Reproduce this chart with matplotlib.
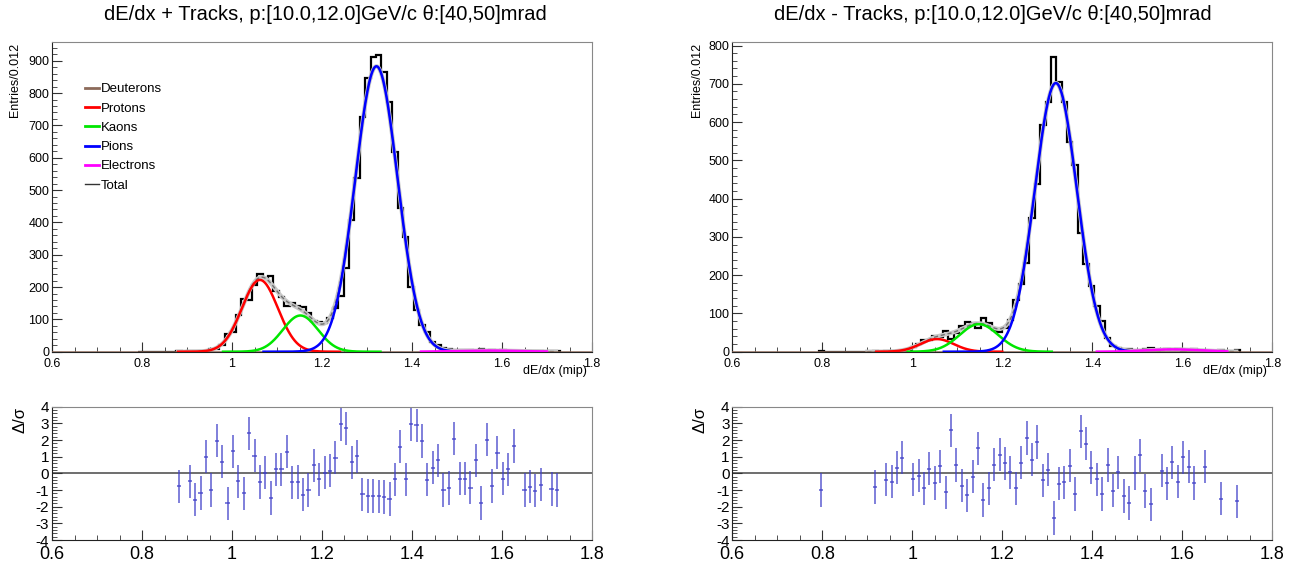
import numpy as np
import matplotlib.pyplot as plt
from matplotlib.ticker import MultipleLocator, FuncFormatter
from matplotlib.lines import Line2D

plt.rcParams['font.family'] = ['Liberation Sans', 'DejaVu Sans']

# histogram binning (ROOT TH1: 100 bins of 0.012 from 0.6 to 1.8)
bin_lo = 0.6
bin_w = 0.012
first_bin = 16  # bins below this index are empty

# bin contents, bins 16..93
pos_counts = [0, 0, 0, 0, 0, 0, 0,
              1, 0, 1, 3, 2, 2, 7, 8, 20, 55, 60, 112, 162, 160, 205, 240, 228, 235,
              188, 168, 140, 151, 142, 138, 120, 95, 92, 90, 105, 136, 172, 258, 407,
              536, 727, 846, 911, 917, 864, 773, 619, 444, 356, 201, 129, 83, 62, 31,
              21, 12, 7, 6, 4, 4, 5, 2, 8, 1, 5, 1, 4, 3, 1, 0, 3, 3, 3, 2, 0, 2, 2]
neg_counts = [1, 0, 0, 0, 0, 0, 0, 0, 0, 0,
              1, 0, 1, 1, 1, 2, 0, 13, 19, 30, 31, 42, 39, 53, 34, 50, 66, 78, 74, 62,
              87, 75, 58, 51, 61, 84, 134, 176, 233, 350, 437, 592, 652, 770, 705, 652,
              548, 487, 310, 230, 172, 120, 81, 36, 16, 9, 8, 8, 3, 2, 6, 10, 0, 5, 7,
              4, 7, 3, 4, 6, 0, 2, 0, 0, 4, 0, 0, 4]

# fit components (gaussian amplitude, mean, sigma, drawing range)
species = ['Deuterons', 'Protons', 'Kaons', 'Pions', 'Electrons']
species_colors = ['#8c6a5a', '#ff0000', '#00e600', '#0000ff', '#ff00ff']
pos_amp = [0, 222, 112, 883, 3.5]
pos_mean = [1.9, 1.062, 1.152, 1.321, 1.57]
pos_sigma = [0.05, 0.040, 0.039, 0.047, 0.07]
pos_lo = [0.6, 0.88, 0.98, 1.07, 1.42]
pos_hi = [1.8, 1.24, 1.33, 1.50, 1.70]
pos_total = [0.88, 1.72]
neg_amp = [0, 33, 72, 702, 6]
neg_mean = [1.9, 1.055, 1.148, 1.319, 1.58]
neg_sigma = [0.05, 0.037, 0.043, 0.0465, 0.06]
neg_lo = [0.6, 0.92, 0.99, 1.07, 1.41]
neg_hi = [1.8, 1.20, 1.31, 1.49, 1.70]
neg_total = [0.90, 1.72]

# residuals (fit - data)/sigma, per filled bin
pos_res_bins = [23] + list(range(25, 86)) + [87, 88, 89, 90, 92, 93]
pos_res = [-0.78,
           -0.48, -1.57, -1.17, 1.0, -1.0, 1.97, 0.70, -1.79, 1.33, -0.48,
           -1.2, 2.41, 1.07, -0.52, 0.04, -1.47, 0.24, 0.24, 1.31, -0.54,
           -0.52, -1.27, -0.99, 0.48, -0.36, 0.04, 0.16, 0.95, 2.96, 2.70,
           0.66, 1.03, -1.25, -1.35, -1.35, -1.37, -1.41, -1.53, -0.36, 1.61,
           -0.36, 2.96, 2.88, 1.95, -0.38, 0.34, 0.78, -0.99, -0.87, 2.09,
           -0.32, -0.32, -0.85, 0.78, -1.77, 2.03, -0.76, 1.25, -0.32, 0.24,
           1.65,
           -0.99, -0.80, -1.03, -0.68, -0.93, -0.99]
neg_res_bins = [16, 26, 28, 29, 30, 31] + list(range(33, 78)) + list(range(79, 86)) + [87, 90, 93]
neg_res = [-0.99, -0.82, -0.38, -0.5, 0.34, 0.95,
           -0.36, -0.14, -0.9, 0.28, -0.58, 0.42, -1.13, 2.58, 0.5, -0.74,
           -1.31, -0.2, 1.51, -1.59, -0.9, 0.52, 1.13, 0.6, 0.06, -0.9,
           0.64, 2.13, 0.82, 1.89, -0.42, 0.22, -2.68, -0.62, -0.54, 0.46,
           -1.23, 2.52, 1.79, 0.34, -0.36, -1.23, 0.5, -1.03, 0.06, -1.35,
           -1.77, 0.02, 1.09, -1.05, -1.85,
           0.16, -0.6, 0.66, -0.5, 0.97, 0.4, -0.58,
           0.4, -1.51, -1.67]

titles = ['dE/dx + Tracks, p:[10.0,12.0]GeV/c θ:[40,50]mrad',
          'dE/dx - Tracks, p:[10.0,12.0]GeV/c θ:[40,50]mrad']


def gauss(x, a, m, s):
    return a * np.exp(-0.5 * ((x - m) / s) ** 2)


fmt = FuncFormatter(lambda v, p: f'{v:g}')


def style_axis(ax, ymaj, ymin, xsize, ysize, ylen, xpad):
    ax.set_xlim(0.6, 1.8)
    ax.xaxis.set_major_locator(MultipleLocator(0.2))
    ax.xaxis.set_minor_locator(MultipleLocator(0.05))
    ax.yaxis.set_major_locator(MultipleLocator(ymaj))
    ax.yaxis.set_minor_locator(MultipleLocator(ymin))
    ax.xaxis.set_major_formatter(fmt)
    ax.yaxis.set_major_formatter(fmt)
    ax.tick_params(which='both', direction='in', top=False, right=False, color='#333333')
    ax.tick_params(axis='x', which='major', length=7, labelsize=xsize, pad=xpad)
    ax.tick_params(axis='x', which='minor', length=3.5)
    ax.tick_params(axis='y', which='major', length=ylen, labelsize=ysize, pad=2)
    ax.tick_params(axis='y', which='minor', length=ylen / 2)
    for s in ['top', 'right']:
        ax.spines[s].set_color('#888888')
    for s in ['left', 'bottom']:
        ax.spines[s].set_color('#222222')


def draw_top(ax, counts, amp, mean, sigma, lo, hi, tot, ymax, legend=False):
    edges = bin_lo + bin_w * np.arange(first_bin, first_bin + len(counts) + 1)
    ax.stairs(counts, edges, color='black', lw=1.6, zorder=2)
    xt = np.linspace(tot[0], tot[1], 600)
    yt = sum(gauss(xt, a, m, s) for a, m, s in zip(amp, mean, sigma))
    ax.plot(xt, yt, color='#c8c8c8', lw=3, zorder=3)
    ax.plot(xt, yt, color='#707070', lw=1, ls=(0, (3, 2)), zorder=3)
    for a, m, s, l, h, c in zip(amp, mean, sigma, lo, hi, species_colors):
        xx = np.linspace(l, h, 500)
        ax.plot(xx, gauss(xx, a, m, s), color=c, lw=1.8, zorder=4)
    ax.set_ylim(0, ymax)
    style_axis(ax, 100, 20, 9, 9, 7, 4.5)
    if legend:
        handles = [Line2D([], [], color=c, lw=2) for c in species_colors]
        handles.append(Line2D([], [], color='#333333', lw=1))
        ax.legend(handles, species + ['Total'], loc='upper left',
                  bbox_to_anchor=(0.062, 0.866), frameon=False, fontsize=9.5,
                  handlelength=1.0, handletextpad=0.15, labelspacing=0.53,
                  borderpad=0, borderaxespad=0)


def draw_res(ax, bins, res):
    x = bin_lo + (np.array(bins) + 0.5) * bin_w
    ax.axhline(0, color='#555555', lw=1.2, zorder=1)
    ax.errorbar(x, res, yerr=1, xerr=0.0045, fmt='none', ecolor='#4040c8',
                elinewidth=1.1, alpha=0.85, zorder=2)
    ax.set_ylim(-4, 4)
    style_axis(ax, 1, 0.2, 13, 11, 7, 4)


fig = plt.figure(figsize=(12.97, 5.61), dpi=100)
W, H = 1297, 561
ax1 = fig.add_axes([52 / W, 1 - 351.7 / H, 540 / W, 310 / H])
ax2 = fig.add_axes([732.3 / W, 1 - 351.7 / H, 540 / W, 310 / H])
ax3 = fig.add_axes([52 / W, 1 - 540 / H, 540 / W, 133.3 / H])
ax4 = fig.add_axes([732.3 / W, 1 - 540 / H, 540 / W, 133.3 / H])

draw_top(ax1, pos_counts, pos_amp, pos_mean, pos_sigma, pos_lo, pos_hi, pos_total, 959, legend=True)
draw_top(ax2, neg_counts, neg_amp, neg_mean, neg_sigma, neg_lo, neg_hi, neg_total, 810)
draw_res(ax3, pos_res_bins, pos_res)
draw_res(ax4, neg_res_bins, neg_res)

fig.text(325 / W, 1 - 15 / H, titles[0], ha='center', va='center', fontsize=14.5)
fig.text(993 / W, 1 - 15 / H, titles[1], ha='center', va='center', fontsize=14.5)
for xl, xr in [(15, 587), (697, 1267)]:
    fig.text(xl / W, 1 - 43 / H, 'Entries/0.012', rotation=90, ha='center', va='top', fontsize=9)
    fig.text(xr / W, 1 - 371 / H, 'dE/dx (mip)', ha='right', va='center', fontsize=9)
for xl in [20, 700]:
    fig.text(xl / W, 1 - 407 / H, 'Δ/σ', rotation=90, ha='center', va='top', fontsize=12)

fig.savefig('out.png', dpi=100)
